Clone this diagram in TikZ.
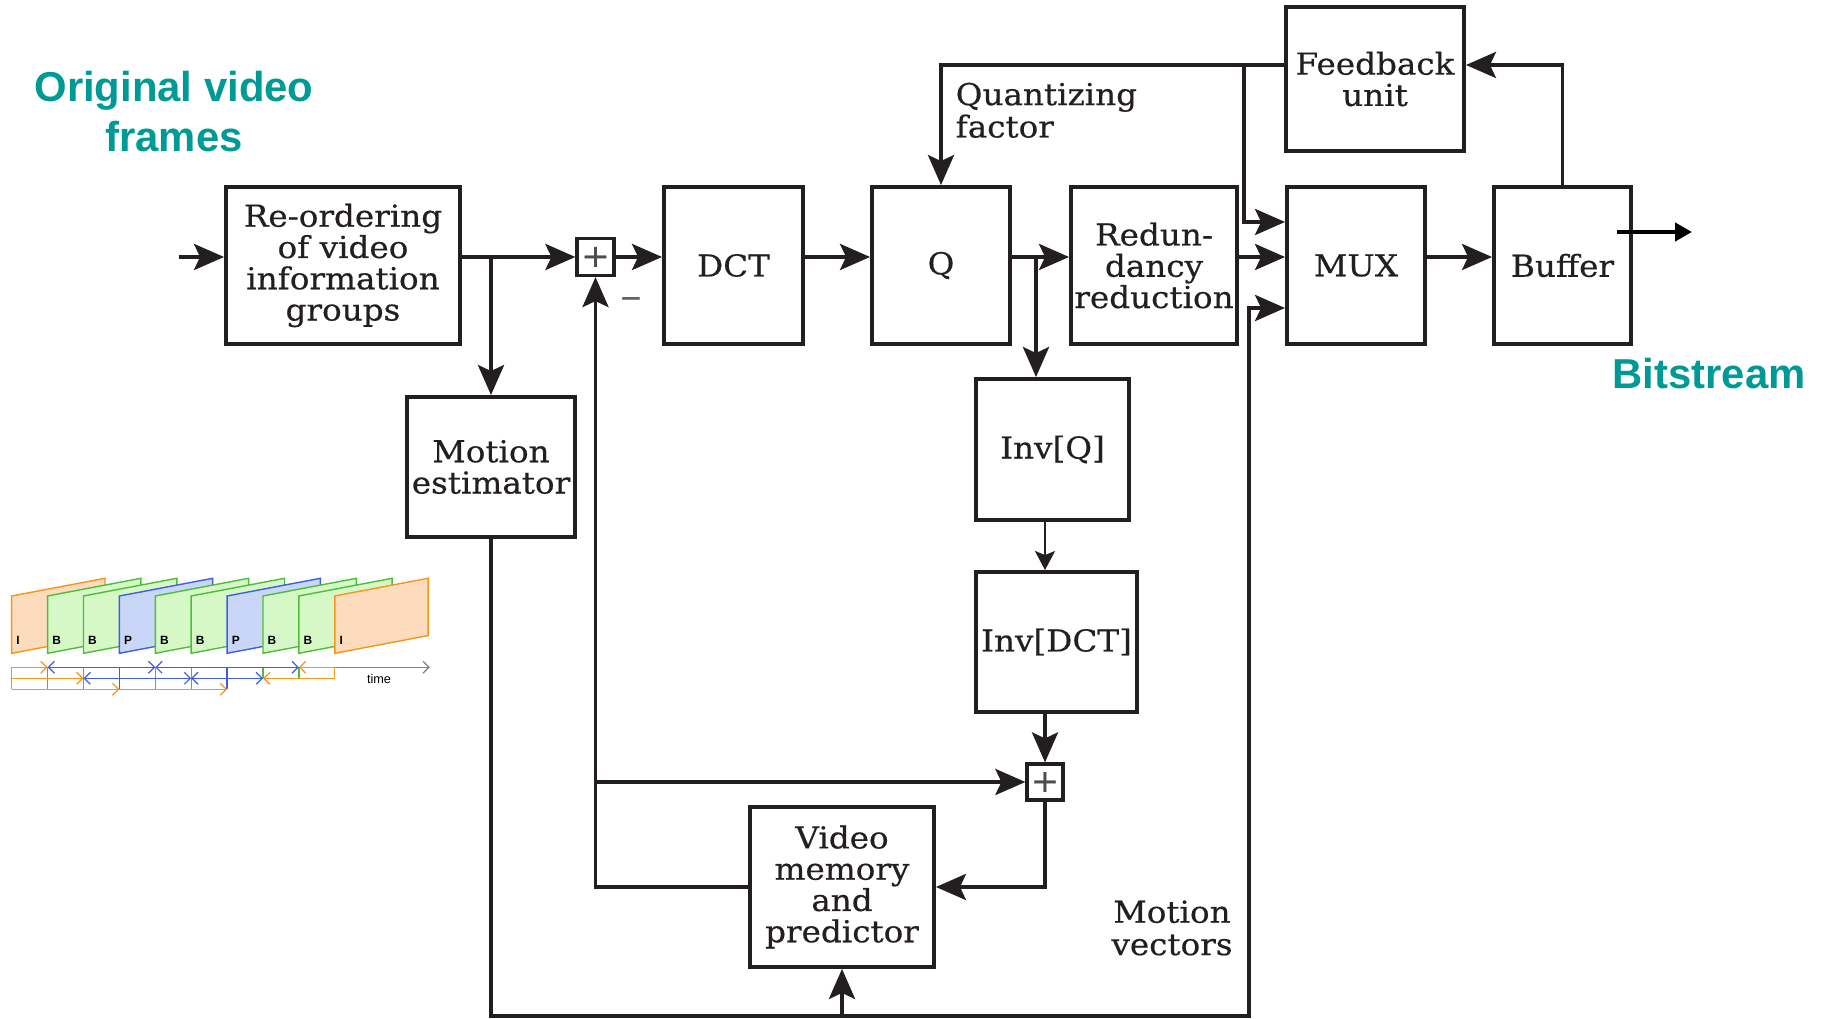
\documentclass[tikz,border=0pt]{standalone}
\usepackage{fontspec}
\setmainfont{DejaVu Serif}[FakeStretch=1.08, FakeBold=0.5]
\newfontfamily\labelfont{Liberation Sans}
\usepackage{xcolor}
\definecolor{lineInk}{HTML}{231F20}
\definecolor{titleTeal}{HTML}{009A96}
\definecolor{iOrange}{HTML}{F7941D}
\definecolor{iFill}{HTML}{FDDCBE}
\definecolor{bGreen}{HTML}{4DBE3A}
\definecolor{bFill}{HTML}{D5F8C6}
\definecolor{pBlue}{HTML}{3F5FE0}
\definecolor{pFill}{HTML}{CAD6F8}
\usepackage{tikz}
\usetikzlibrary{positioning,arrows.meta,calc}

\begin{document}
\begin{tikzpicture}[
    block/.style={draw=lineInk, line width=1.1pt, text=lineInk, align=center,
      inner sep=0pt, font=\fontsize{8.6}{8.9}\selectfont},
    sumbox/.style={draw=lineInk, line width=0.9pt, text=lineInk!80, minimum size=0.37cm,
      inner sep=0pt, font=\fontsize{9}{9}\selectfont},
    wire/.style={draw=lineInk, line width=1.1pt},
    flow/.style={wire, -{Stealth[length=3mm,width=2.6mm,inset=0.6mm]}},
    thinflow/.style={draw=lineInk, line width=0.7pt, -{Stealth[length=1.9mm,width=2mm,inset=0.4mm]}},
    caption/.style={text=lineInk, inner sep=0pt, font=\fontsize{8.6}{9.2}\selectfont},
    teal/.style={text=titleTeal, inner sep=0pt, align=center,
      font=\labelfont\bfseries\fontsize{11.9}{14.2}\selectfont},
    framelabel/.style={anchor=base west, inner sep=0pt,
      font=\labelfont\bfseries\fontsize{3.4}{4}\selectfont},
    barb/.style={-{Straight Barb[length=0.6mm,width=1.2mm]}},
    dbarb/.style={{Straight Barb[length=0.6mm,width=1.2mm]}-{Straight Barb[length=0.6mm,width=1.2mm]}}
  ]
  \useasboundingbox (0,0) rectangle (18.24,10.19);

  % Encoder blocks
  \node[block, minimum width=2.34cm, minimum height=1.57cm] (reorder) at (3.43,7.535) {Re-ordering\\of video\\information\\groups};
  \node[sumbox] (plus1) at (5.955,7.62) {+};
  \node[block, minimum width=1.39cm, minimum height=1.57cm] (dct) at (7.335,7.535) {DCT};
  \node[block, minimum width=1.38cm, minimum height=1.57cm] (quant) at (9.41,7.535) {Q};
  \node[block, minimum width=1.66cm, minimum height=1.57cm] (redund) at (11.54,7.535) {Redun-\\dancy\\reduction};
  \node[block, minimum width=1.38cm, minimum height=1.57cm] (mux) at (13.56,7.535) {MUX};
  \node[block, minimum width=1.37cm, minimum height=1.57cm] (buffer) at (15.625,7.535) {Buffer};
  \node[block, minimum width=1.78cm, minimum height=1.44cm] (feedback) at (13.75,9.40) {Feedback\\unit};
  \node[block, minimum width=1.68cm, minimum height=1.40cm] (motionest) at (4.91,5.52) {Motion\\estimator};
  % Reconstruction path
  \node[block, minimum width=1.53cm, minimum height=1.41cm] (invq) at (10.525,5.695) {Inv[Q]};
  \node[block, minimum width=1.61cm, minimum height=1.40cm] (invdct) at (10.565,3.77) {Inv[DCT]};
  \node[sumbox, minimum size=0.36cm] (plus2) at (10.45,2.37) {+};
  \node[block, minimum width=1.84cm, minimum height=1.60cm] (vidmem) at (8.42,1.32) {Video\\memory\\and\\predictor};

  % Forward path
  \coordinate (vin) at (1.79,7.62);
  \draw[flow] (vin) -- (vin -| reorder.west);
  \draw[flow] (reorder.east |- plus1) -- (plus1.west);
  \draw[flow] (motionest.north |- plus1) -- (motionest.north);
  \draw[flow] (plus1.east) -- (plus1 -| dct.west);
  \draw[flow] (plus1 -| dct.east) -- (plus1 -| quant.west);
  \draw[flow] (plus1 -| quant.east) -- (plus1 -| redund.west);
  \draw[flow] (plus1 -| redund.east) -- (plus1 -| mux.west);
  \draw[flow] (plus1 -| mux.east) -- (plus1 -| buffer.west);
  \coordinate (qtap) at (10.36,7.62);
  \draw[flow] (qtap) -- (qtap |- invq.north);

  % Rate control loop
  \coordinate (fbtap) at (12.44,9.54);
  \draw[flow] ([yshift=1.4mm]feedback.west) -| (quant.north);
  \draw[flow] (fbtap) |- ([yshift=4.35mm]mux.west);
  \draw[flow] (buffer.north) |- ([yshift=1.4mm]feedback.east);

  % Prediction loop
  \draw[thinflow] (plus2 |- invq.south) -- (plus2 |- invdct.north);
  \draw[flow] (plus2 |- invdct.south) -- (plus2.north);
  \draw[flow] (plus2.south) |- (vidmem.east);
  \draw[flow] (vidmem.west) -| (plus1.south);
  \draw[flow] (plus1 |- plus2) -- (plus2.west);

  % Motion vectors to memory and MUX
  \coordinate (mvcorner) at (12.49,0.03);
  \draw[flow] (motionest.south) |- (mvcorner) |- ([yshift=-4.25mm]mux.west);
  \draw[flow] (vidmem.south |- mvcorner) -- (vidmem.south);

  % Output
  \coordinate (outA) at (16.17,7.87);
  \coordinate (outB) at (16.92,7.87);
  \draw[black, line width=1.4pt, -{Triangle[length=1.7mm,width=1.8mm]}] (outA) -- (outB);

  % Labels
  \node[caption, align=left, anchor=north west] (qfactor) at (9.55,9.37) {Quantizing\\factor};
  \node[caption, align=center] (mvlabel) at (11.72,0.91) {Motion\\vectors};
  \node[caption, text=lineInk!70, font=\fontsize{11}{11}\selectfont] (minus) at (6.31,7.16) {–};
  \node[teal] (origlabel) at (1.74,9.075) {Original video\\frames};
  \node[teal] (bitlabel) at (17.09,6.45) {Bitstream};

  % GOP sketch: I B B P B B P B B I
  \foreach \kind/\fillc/\linec [count=\i from 0] in {I/iFill/iOrange, B/bFill/bGreen, B/bFill/bGreen,
      P/pFill/pBlue, B/bFill/bGreen, B/bFill/bGreen, P/pFill/pBlue, B/bFill/bGreen,
      B/bFill/bGreen, I/iFill/iOrange} {
    \pgfmathsetmacro\fx{0.117+0.359*\i}
    \draw[draw=\linec, fill=\fillc, line width=0.4pt]
      (\fx,3.657) -- ++(0.933,0.177) -- ++(0,0.573) -- ++(-0.933,-0.177) -- cycle;
    \node[framelabel] at (\fx+0.04,3.74) {\kind};
  }
  % time axis with reference arrows
  \begin{scope}[shift={(0.117,0)}, x=0.359cm, line width=0.35pt]
    \draw[iOrange] (0,3.517) -- (0,3.297);
    \foreach \t in {1,2,4,5} \draw[bGreen] (\t,3.517) -- (\t,3.297);
    \foreach \t in {3,6} \draw[pBlue] (\t,3.517) -- (\t,3.297);
    \foreach \t in {7,8} \draw[bGreen] (\t,3.517) -- (\t,3.407);
    \draw[iOrange] (9,3.517) -- (9,3.407);
    % row 1
    \draw[iOrange, barb] (0,3.517) -- (1,3.517);
    \draw[pBlue, dbarb] (1,3.517) -- (4,3.517);
    \draw[pBlue, dbarb] (4,3.517) -- (8,3.517);
    \draw[iOrange, barb] (9,3.517) -- (8,3.517);
    \draw[gray, barb] (9,3.517) -- (11.65,3.517);
    % row 2
    \draw[iOrange, barb] (0,3.407) -- (2,3.407);
    \draw[pBlue, dbarb] (2,3.407) -- (5,3.407);
    \draw[pBlue, dbarb] (5,3.407) -- (7,3.407);
    \draw[iOrange, barb] (9,3.407) -- (7,3.407);
    % row 3
    \draw[iOrange, barb] (0,3.297) -- (3,3.297);
    \draw[iOrange, barb] (3,3.297) -- (6,3.297);
  \end{scope}
  \node[inner sep=0pt, font=\labelfont\fontsize{3.6}{4}\selectfont] (timelabel) at (3.79,3.40) {time};
\end{tikzpicture}
\end{document}
